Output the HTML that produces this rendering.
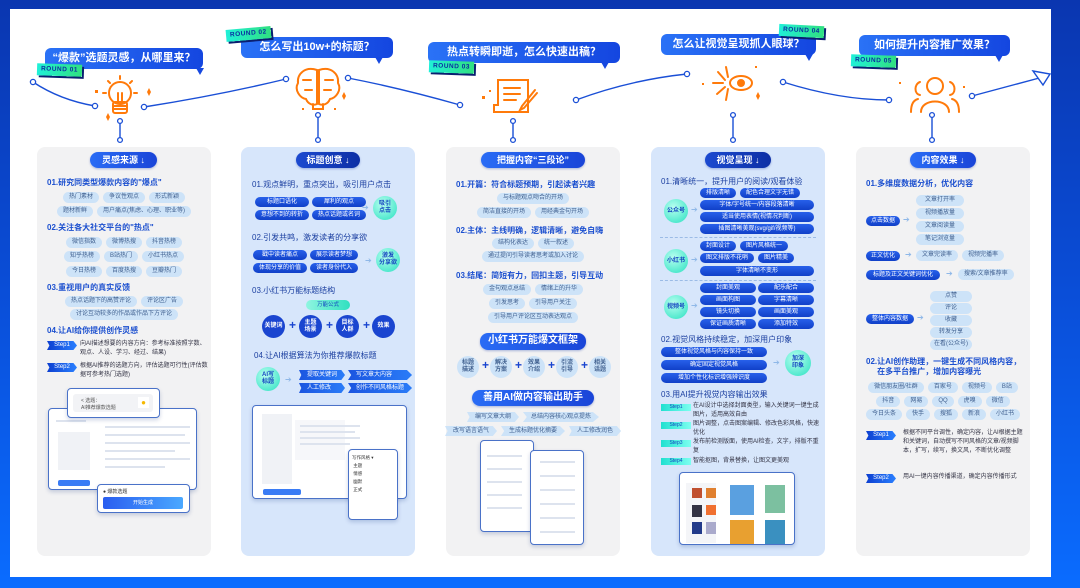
<!DOCTYPE html>
<html><head><meta charset="utf-8">
<style>
*{margin:0;padding:0;box-sizing:border-box}
body{width:1080px;height:588px;overflow:hidden;position:relative;font-family:"Liberation Sans","Noto Sans CJK SC",sans-serif;background:linear-gradient(180deg,#0a36b0 0%,#0a4ed8 50%,#0a6cff 100%)}
.panel{position:absolute;left:10px;top:9px;width:1041px;height:568px;background:#fff}
.card{position:absolute;top:147px;width:174px;height:409px;border-radius:8px;background:#f2f2f3}
.card.b{background:#d7e6fb}
.a{position:absolute}
.title{position:absolute;height:16px;border-radius:8px;background:linear-gradient(90deg,#2a6cf5,#1a45d8);color:#fff;font-weight:bold;font-size:9px;line-height:16px;text-align:center;box-shadow:0 1px 2px rgba(0,40,160,.3)}
.title.dk{background:linear-gradient(90deg,#1c4ad0,#0d2fa5)}
.h{position:absolute;font-size:8px;font-weight:bold;color:#1b4fcf;white-space:nowrap}
.row{position:absolute;display:flex;gap:4px;justify-content:center}
.p{height:11px;border-radius:6px;background:#cde3f8;color:#40608f;font-size:6px;line-height:11px;padding:0 6px;white-space:nowrap;text-align:center}
.d{height:10px;border-radius:5px;background:linear-gradient(180deg,#2760ea,#1140c8);color:#fff;font-size:6px;line-height:10px;padding:0 6px;white-space:nowrap;text-align:center}
.cir{position:absolute;border-radius:50%;display:flex;align-items:center;justify-content:center;text-align:center;font-size:6px;line-height:7px;font-weight:bold}
.g{background:radial-gradient(circle at 40% 35%,#b8fff0,#29e0c0);color:#1545c0}
.bl{background:#1a45d0;color:#fff}
.lb{background:#cde3f8;color:#40608f}
.plus{position:absolute;font-size:12px;font-weight:bold;color:#1a45d0}
.t{position:absolute;font-size:6px;color:#334;line-height:9px}
.step{position:absolute;height:9px;width:30px;background:linear-gradient(90deg,#0d3fd0,#2a80ff);color:#fff;font-size:6px;line-height:9px;text-align:center;clip-path:polygon(0 0,88% 0,100% 50%,88% 100%,0 100%,8% 50%)}
.stepc{position:absolute;height:7px;width:30px;background:linear-gradient(90deg,#20e0d0,#7dfff0);color:#1545c0;font-size:5px;line-height:7px;text-align:center}
.bub{position:absolute;height:21px;border-radius:6px;background:linear-gradient(90deg,#2a72f6,#1446e0);color:#fff;font-weight:bold;font-size:11px;line-height:21px;text-align:center;white-space:nowrap}
.bub:after{content:"";position:absolute;bottom:-6px;border-left:4px solid transparent;border-right:4px solid transparent;border-top:7px solid #1648e0}
.rd{position:absolute;height:12px;padding:0 4px;background:linear-gradient(90deg,#20f0d8,#30e080);color:#0b2fa0;font-size:6.5px;font-weight:bold;line-height:12px;box-shadow:2px 2px 0 #0a1f70;letter-spacing:.5px}
.rib{height:10px;background:linear-gradient(90deg,#1b55e0,#2a7cf8);color:#fff;font-size:6px;line-height:10px;padding:0 8px;clip-path:polygon(0 0,92% 0,100% 50%,92% 100%,0 100%,5% 50%);white-space:nowrap}
.rib2{height:10px;background:#cde3f8;color:#40608f;font-size:6px;line-height:10px;padding:0 8px;clip-path:polygon(0 0,92% 0,100% 50%,92% 100%,0 100%,5% 50%);white-space:nowrap}
.win{position:absolute;background:#fff;border:1.5px solid #4a72c8;border-radius:4px;box-shadow:0 2px 4px rgba(0,40,120,.2)}
.ln{position:absolute;height:2px;background:#dde3ee}
.arr{position:absolute;color:#8fb8e8;font-size:8px}
.dash{position:absolute;height:0;border-top:1px dashed #9bbbe6}
</style></head><body>
<div class="panel"></div>

<!-- connectors & icons -->
<svg class="a" style="left:0;top:0" width="1080" height="588">
<g fill="none" stroke="#1a4fd6" stroke-width="1.4">
<path d="M33,82 Q60,100 95,106"/><path d="M144,107 Q220,95 286,79"/><path d="M348,78 Q400,88 460,105"/><path d="M576,100 Q630,80 687,74"/><path d="M783,82 Q840,100 889,100"/><path d="M972,96 L1043,77"/>
<path d="M1033,71 L1050,74 L1043,85 Z" fill="#fff"/>
<path d="M120,121 V140 M318,115 V140 M513,121 V140 M733,115 V140 M932,115 V140"/>
</g>
<g fill="#fff" stroke="#1a4fd6" stroke-width="1.3">
<circle cx="33" cy="82" r="2.6"/><circle cx="95" cy="106" r="2.6"/><circle cx="144" cy="107" r="2.6"/><circle cx="286" cy="79" r="2.6"/><circle cx="348" cy="78" r="2.6"/><circle cx="460" cy="105" r="2.6"/><circle cx="576" cy="100" r="2.6"/><circle cx="687" cy="74" r="2.6"/><circle cx="783" cy="82" r="2.6"/><circle cx="889" cy="100" r="2.6"/><circle cx="972" cy="96" r="2.6"/>
<circle cx="120" cy="121" r="2.4"/><circle cx="120" cy="140" r="2.4"/><circle cx="318" cy="115" r="2.4"/><circle cx="318" cy="140" r="2.4"/><circle cx="513" cy="121" r="2.4"/><circle cx="513" cy="140" r="2.4"/><circle cx="733" cy="115" r="2.4"/><circle cx="733" cy="140" r="2.4"/><circle cx="932" cy="115" r="2.4"/><circle cx="932" cy="140" r="2.4"/>
</g>
<g fill="none" stroke="#ff7a0a" stroke-width="2" stroke-linecap="round">
<!-- bulb -->
<circle cx="120" cy="93" r="11"/><rect x="113" y="102" width="14" height="11" rx="2"/><path d="M114,106 H126 M114,109 H126 M118,93 V102 M122,93 V102"/>
<path d="M120,76 V79 M108,81 L110,83 M132,81 L130,83 M103,93 H106 M134,93 H137"/>
<!-- brain -->
<path d="M317,70 C305,66 297,74 298,83 C294,90 300,98 306,99 C308,104 313,106 317,104 Z"/><path d="M319,70 C331,66 339,74 338,83 C342,90 336,98 330,99 C328,104 323,106 319,104 Z"/>
<path d="M303,80 H311 M305,90 H312 M333,80 H325 M331,90 H324 M313,104 V109 H323 V104"/>
<!-- doc -->
<path d="M498,80 H528 V112 H494 V105 H498 Z"/><path d="M504,88 H520 M504,94 H520 M504,100 H516"/><path d="M535,90 L522,106 L520,110 L524,108 L537,93"/>
<!-- eye -->
<ellipse cx="741" cy="83" rx="11" ry="7"/><circle cx="741" cy="83" r="3" fill="#ff7a0a"/>
<path d="M726,67 L728,77 M718,72 L725,80 M713,83 H723 M717,94 L725,87 M726,100 L728,89"/>
<!-- people -->
<circle cx="935" cy="86" r="8"/><path d="M921,112 C921,98 949,98 949,112"/><path d="M920,82 C914,84 914,94 920,95 M950,82 C956,84 956,94 950,95 M911,112 C911,104 914,100 918,99 M959,112 C959,104 956,100 952,99"/>
</g>
<g fill="#ff7a0a"><path d="M106,117 l2,-4 l2,4 l-2,4z"/><path d="M147,92 l2,-4 l2,4 l-2,4z"/><rect x="95" y="90" width="3" height="3"/><path d="M342,96 l2,-4 l2,4 l-2,4z"/><rect x="302" y="108" width="2" height="2"/><rect x="334" y="108" width="2" height="2"/><rect x="482" y="96" width="3" height="3"/><rect x="489" y="90" width="2" height="2"/><path d="M756,96 l2,-4 l2,4 l-2,4z"/><rect x="755" y="66" width="2" height="2"/><rect x="702" y="83" width="2" height="2"/><rect x="899" y="82" width="2" height="2"/><rect x="963" y="86" width="2" height="2"/></g>
</svg>

<!-- bubbles -->
<div class="bub" style="left:45px;top:48px;width:158px">“爆款”选题灵感，从哪里来？<span style="position:absolute;left:118px;bottom:-6px"></span></div>
<div class="rd" style="left:37px;top:64px;transform:rotate(2deg)">ROUND 01</div>
<div class="bub" style="left:241px;top:37px;width:152px">怎么写出10w+的标题？</div>
<div class="rd" style="left:226px;top:28px;transform:rotate(-5deg)">ROUND 02</div>
<div class="bub" style="left:428px;top:42px;width:192px">热点转瞬即逝，怎么快速出稿？</div>
<div class="rd" style="left:429px;top:61px;transform:rotate(2deg)">ROUND 03</div>
<div class="bub" style="left:661px;top:34px;width:155px">怎么让视觉呈现抓人眼球？</div>
<div class="rd" style="left:779px;top:25px;transform:rotate(3deg)">ROUND 04</div>
<div class="bub" style="left:859px;top:35px;width:151px">如何提升内容推广效果？</div>
<div class="rd" style="left:851px;top:55px;transform:rotate(2deg)">ROUND 05</div>

<!-- CARD 1 -->
<div class="card" style="left:37px"></div>
<div class="title" style="left:90px;top:152px;width:67px">灵感来源 ↓</div>
<div class="h" style="left:47px;top:177px">01.研究同类型爆款内容的"爆点"</div>
<div class="row" style="left:37px;width:174px;top:192px"><div class="p">热门素材</div><div class="p">争议性观点</div><div class="p">形式新颖</div></div>
<div class="row" style="left:37px;width:174px;top:206px"><div class="p">题材新鲜</div><div class="p">用户痛点(焦虑、心理、职业等)</div></div>
<div class="h" style="left:47px;top:222px">02.关注各大社交平台的"热点"</div>
<div class="row" style="left:37px;width:174px;top:237px"><div class="p">微信指数</div><div class="p">微博热搜</div><div class="p">抖音热榜</div></div>
<div class="row" style="left:37px;width:174px;top:251px"><div class="p">知乎热榜</div><div class="p">B站热门</div><div class="p">小红书热点</div></div>
<div class="row" style="left:37px;width:174px;top:266px"><div class="p">今日热榜</div><div class="p">百度热搜</div><div class="p">豆瓣热门</div></div>
<div class="h" style="left:47px;top:282px">03.重视用户的真实反馈</div>
<div class="row" style="left:37px;width:174px;top:296px"><div class="p">热点话题下的高赞评论</div><div class="p">评论区广告</div></div>
<div class="row" style="left:37px;width:174px;top:309px"><div class="p">讨论互动较多的作品或作品下方评论</div></div>
<div class="h" style="left:47px;top:325px">04.让AI给你提供创作灵感</div>
<div class="step" style="left:47px;top:341px">Step1</div>
<div class="t" style="left:80px;top:340px;width:128px">向AI描述想要的内容方向：参考标准按照字数、观点、人设、学习、经过、结果)</div>
<div class="step" style="left:47px;top:363px">Step2</div>
<div class="t" style="left:80px;top:362px;width:128px">根据AI推荐的选题方向，评估选题可行性(评估数据可参考热门选题)</div>
<div class="win" style="left:48px;top:408px;width:149px;height:82px"></div>
<div class="ln" style="left:56px;top:420px;width:30px"></div><div class="a" style="left:58px;top:432px;width:32px;height:38px;background:#f0f2f6"></div>
<div class="ln" style="left:105px;top:426px;width:85px"></div><div class="ln" style="left:105px;top:434px;width:80px"></div><div class="ln" style="left:105px;top:442px;width:85px"></div><div class="ln" style="left:105px;top:450px;width:70px"></div><div class="ln" style="left:105px;top:458px;width:85px"></div><div class="ln" style="left:105px;top:466px;width:60px"></div>
<div class="a" style="left:58px;top:480px;width:32px;height:6px;background:#3a7cf5;border-radius:2px"></div>
<div class="win" style="left:67px;top:388px;width:93px;height:30px"><div class="a" style="left:5px;top:5px;width:80px;height:18px;background:#f2f3f6;border-radius:3px;font-size:5px;color:#555;padding:3px 8px">&lt; 选题：<br>AI推荐爆款选题</div><div class="a" style="left:70px;top:8px;width:11px;height:11px;background:#fff;color:#f5b800;font-size:8px;line-height:11px;text-align:center">●</div></div>
<div class="win" style="left:97px;top:484px;width:93px;height:29px"><div class="a" style="left:5px;top:3px;font-size:5px;color:#333">● 爆款选题</div><div class="a" style="left:5px;top:12px;width:80px;height:12px;border-radius:2px;background:linear-gradient(90deg,#2a5ef0,#4aa8ff);color:#fff;font-size:5px;line-height:12px;text-align:center">开始生成</div></div>

<!-- CARD 2 -->
<div class="card b" style="left:241px"></div>
<div class="title dk" style="left:296px;top:152px;width:64px">标题创意 ↓</div>
<div class="h" style="left:252px;top:179px;font-weight:normal;color:#1b3fa0">01.观点鲜明，重点突出，吸引用户点击</div>
<div class="a" style="left:255px;top:197px;display:grid;grid-template-columns:auto auto;gap:3px"><div class="d">标题口语化</div><div class="d">犀利的观点</div><div class="d">意想不到的转折</div><div class="d">热点话题或名词</div></div>
<div class="arr" style="left:362px;top:203px">➔</div>
<div class="cir g" style="left:373px;top:196px;width:24px;height:24px">吸引<br>点击</div>
<div class="h" style="left:252px;top:232px;font-weight:normal;color:#1b3fa0">02.引发共鸣，激发读者的分享欲</div>
<div class="a" style="left:253px;top:250px;display:grid;grid-template-columns:auto auto;gap:3px"><div class="d">戳中读者痛点</div><div class="d">展示读者梦想</div><div class="d">体现分享的价值</div><div class="d">读者身份代入</div></div>
<div class="arr" style="left:365px;top:256px">➔</div>
<div class="cir g" style="left:376px;top:248px;width:24px;height:24px">激发<br>分享欲</div>
<div class="h" style="left:252px;top:285px;font-weight:normal;color:#1b3fa0">03.小红书万能标题结构</div>
<div class="a" style="left:306px;top:300px;width:44px;height:10px;border-radius:5px;background:linear-gradient(90deg,#8ff5e0,#30e0c0);font-size:5.5px;line-height:10px;text-align:center;color:#1545c0">万能公式</div>
<div class="cir bl" style="left:262px;top:315px;width:23px;height:23px">关键词</div>
<div class="plus" style="left:289px;top:318px">+</div>
<div class="cir bl" style="left:299px;top:315px;width:23px;height:23px">主题<br>场景</div>
<div class="plus" style="left:326px;top:318px">+</div>
<div class="cir bl" style="left:336px;top:315px;width:23px;height:23px">目标<br>人群</div>
<div class="plus" style="left:363px;top:318px">+</div>
<div class="cir bl" style="left:372px;top:315px;width:23px;height:23px">效果</div>
<div class="h" style="left:254px;top:350px;font-weight:normal;color:#1b3fa0">04.让AI根据算法为你推荐爆款标题</div>
<div class="cir g" style="left:256px;top:367px;width:24px;height:24px">AI写<br>标题</div>
<div class="arr" style="left:285px;top:375px">➔</div>
<div class="a" style="left:299px;top:370px;display:grid;grid-template-columns:auto auto;gap:3px"><div class="rib">提取关键词</div><div class="rib">写文章大内容</div><div class="rib">人工修改</div><div class="rib">创作不同风格标题</div></div>
<div class="win" style="left:252px;top:405px;width:155px;height:94px"></div>
<div class="a" style="left:262px;top:414px;width:30px;height:70px;background:#f0f2f6"></div>
<div class="a" style="left:295px;top:420px;width:50px;height:40px;background:#f6f7fa"></div>
<div class="ln" style="left:300px;top:425px;width:60px"></div><div class="ln" style="left:300px;top:431px;width:55px"></div><div class="ln" style="left:300px;top:437px;width:60px"></div><div class="ln" style="left:300px;top:443px;width:50px"></div>
<div class="a" style="left:263px;top:489px;width:38px;height:6px;background:#3a7cf5;border-radius:2px"></div>
<div class="win" style="left:348px;top:449px;width:50px;height:71px"><div class="a" style="left:3px;top:4px;font-size:4.5px;color:#333;line-height:8px">写作风格 ▾<br>&nbsp;主题<br>&nbsp;情感<br>&nbsp;幽默<br>&nbsp;正式</div></div>

<!-- CARD 3 -->
<div class="card" style="left:446px"></div>
<div class="title" style="left:481px;top:152px;width:104px">把握内容“三段论”</div>
<div class="h" style="left:456px;top:179px">01.开篇：符合标题预期，引起读者兴趣</div>
<div class="row" style="left:446px;width:174px;top:193px"><div class="p">与标题观点吻合的开场</div></div>
<div class="row" style="left:446px;width:174px;top:207px"><div class="p">简洁直接的开场</div><div class="p">用经典金句开场</div></div>
<div class="h" style="left:456px;top:225px">02.主体：主线明确，逻辑清晰，避免自嗨</div>
<div class="row" style="left:446px;width:174px;top:238px"><div class="p">结构化表达</div><div class="p">统一叙述</div></div>
<div class="row" style="left:446px;width:174px;top:251px"><div class="p">通过提问引导读者思考或加入讨论</div></div>
<div class="h" style="left:456px;top:270px">03.结尾：简短有力，回扣主题，引导互动</div>
<div class="row" style="left:446px;width:174px;top:284px"><div class="p">金句观点总结</div><div class="p">情绪上的升华</div></div>
<div class="row" style="left:446px;width:174px;top:298px"><div class="p">引发思考</div><div class="p">引导用户关注</div></div>
<div class="row" style="left:446px;width:174px;top:312px"><div class="p">引导用户评论区互动表达观点</div></div>
<div class="title" style="left:480px;top:333px;width:106px;height:17px;font-size:10px">小红书万能爆文框架</div>
<div class="cir lb" style="left:457px;top:356px;width:22px;height:22px">标题<br>描述</div><div class="plus" style="left:482px;top:358px">+</div>
<div class="cir lb" style="left:490px;top:356px;width:22px;height:22px">解决<br>方案</div><div class="plus" style="left:515px;top:358px">+</div>
<div class="cir lb" style="left:523px;top:356px;width:22px;height:22px">效果<br>介绍</div><div class="plus" style="left:548px;top:358px">+</div>
<div class="cir lb" style="left:556px;top:356px;width:22px;height:22px">引流<br>引导</div><div class="plus" style="left:581px;top:358px">+</div>
<div class="cir lb" style="left:589px;top:356px;width:22px;height:22px">相关<br>话题</div>
<div class="title" style="left:472px;top:390px;width:122px;height:16px;font-size:10px">善用AI做内容输出助手</div>
<div class="row" style="left:446px;width:174px;top:412px"><div class="rib2">编写文章大纲</div><div class="rib2">总结内容核心观点提炼</div></div>
<div class="row" style="left:446px;width:174px;top:426px"><div class="rib2">改写语言语气</div><div class="rib2">生成标题优化摘要</div><div class="rib2">人工修改润色</div></div>
<div class="win" style="left:480px;top:440px;width:54px;height:92px"></div>
<div class="win" style="left:530px;top:450px;width:54px;height:95px"></div>
<div class="ln" style="left:487px;top:455px;width:35px"></div><div class="ln" style="left:487px;top:468px;width:35px"></div><div class="ln" style="left:487px;top:481px;width:35px"></div><div class="ln" style="left:487px;top:494px;width:35px"></div><div class="ln" style="left:487px;top:507px;width:35px"></div>
<div class="ln" style="left:540px;top:461px;width:35px"></div><div class="ln" style="left:540px;top:475px;width:35px"></div><div class="ln" style="left:540px;top:489px;width:35px"></div><div class="ln" style="left:540px;top:503px;width:35px"></div><div class="ln" style="left:540px;top:517px;width:35px"></div><div class="ln" style="left:540px;top:531px;width:35px"></div>

<!-- CARD 4 -->
<div class="card b" style="left:651px"></div>
<div class="title dk" style="left:705px;top:152px;width:66px">视觉呈现 ↓</div>
<div class="h" style="left:661px;top:176px;font-weight:normal;color:#1b3fa0">01.清晰统一，提升用户的阅读/观看体验</div>
<div class="cir g" style="left:664px;top:199px;width:24px;height:24px">公众号</div><div class="arr" style="left:691px;top:205px">➔</div>
<div class="row" style="left:700px;top:188px"><div class="d">排版清晰</div><div class="d">配色合理文字无错</div></div>
<div class="row" style="left:700px;top:200px"><div class="d" style="width:114px">字体/字号统一/内容段落清晰</div></div>
<div class="row" style="left:700px;top:212px"><div class="d" style="width:114px">适当使用表情(视情况判断)</div></div>
<div class="row" style="left:700px;top:224px"><div class="d" style="width:114px">插图清晰美观(svg/gif/视频等)</div></div>
<div class="dash" style="left:660px;top:237px;width:156px"></div>
<div class="cir g" style="left:664px;top:249px;width:24px;height:24px">小红书</div><div class="arr" style="left:691px;top:255px">➔</div>
<div class="row" style="left:700px;top:241px"><div class="d">封面设计</div><div class="d">图片风格统一</div></div>
<div class="row" style="left:700px;top:253px"><div class="d">图文排版不花哨</div><div class="d">图片精美</div></div>
<div class="row" style="left:700px;top:266px"><div class="d" style="width:114px">字体清晰不变形</div></div>
<div class="dash" style="left:660px;top:280px;width:156px"></div>
<div class="cir g" style="left:664px;top:295px;width:24px;height:24px">视频号</div><div class="arr" style="left:691px;top:301px">➔</div>
<div class="a" style="left:700px;top:283px;display:grid;grid-template-columns:56px 56px;gap:2px"><div class="d">封面美观</div><div class="d">配乐配合</div><div class="d">画面构图</div><div class="d">字幕清晰</div><div class="d">镜头切换</div><div class="d">画面美观</div><div class="d">保证画质清晰</div><div class="d">添加特效</div></div>
<div class="h" style="left:661px;top:334px;font-weight:normal;color:#1b3fa0">02.视觉风格持续稳定，加深用户印象</div>
<div class="a" style="left:661px;top:347px;display:flex;flex-direction:column;gap:3px"><div class="d" style="width:106px">整体视觉风格与内容保持一致</div><div class="d" style="width:106px">确定固定视觉风格</div><div class="d" style="width:106px">增加个性化标识增强辨识度</div></div>
<div class="arr" style="left:773px;top:358px">➔</div>
<div class="cir g" style="left:785px;top:350px;width:26px;height:26px">加深<br>印象</div>
<div class="h" style="left:661px;top:389px;font-weight:normal;color:#1b3fa0">03.用AI提升视觉内容输出效果</div>
<div class="stepc" style="left:661px;top:404px">Step1</div><div class="t" style="left:693px;top:402px;width:128px">在AI设计中选择封面类型，输入关键词一键生成图片，适用高效自由</div>
<div class="stepc" style="left:661px;top:422px">Step2</div><div class="t" style="left:693px;top:420px;width:128px">图片调整，点击图案编辑、修改色彩风格，快速优化</div>
<div class="stepc" style="left:661px;top:440px">Step3</div><div class="t" style="left:693px;top:438px;width:128px">发布前检测版面，使用AI检查，文字，排版不重复</div>
<div class="stepc" style="left:661px;top:458px">Step4</div><div class="t" style="left:693px;top:457px;width:130px">智能抠图，背景替换，让图文更美观</div>
<div class="win" style="left:679px;top:472px;width:116px;height:73px"></div>
<div class="a" style="left:686px;top:483px;width:30px;height:60px;background:#f4f5f8"></div>
<div class="a" style="left:692px;top:488px;width:10px;height:10px;background:#c05030"></div><div class="a" style="left:706px;top:488px;width:10px;height:10px;background:#e08030"></div>
<div class="a" style="left:692px;top:505px;width:10px;height:12px;background:#334"></div><div class="a" style="left:706px;top:505px;width:10px;height:10px;background:#f07030"></div>
<div class="a" style="left:692px;top:522px;width:10px;height:12px;background:#223a8a"></div><div class="a" style="left:706px;top:522px;width:10px;height:12px;background:#aac"></div>
<div class="a" style="left:730px;top:485px;width:24px;height:30px;background:#5aa0e0"></div><div class="a" style="left:765px;top:485px;width:20px;height:28px;background:#7cc0a0"></div>
<div class="a" style="left:730px;top:520px;width:24px;height:24px;background:#e8a030"></div><div class="a" style="left:765px;top:520px;width:20px;height:24px;background:#3a90c0"></div>

<!-- CARD 5 -->
<div class="card" style="left:856px"></div>
<div class="title" style="left:910px;top:152px;width:66px">内容效果 ↓</div>
<div class="h" style="left:866px;top:178px">01.多维度数据分析，优化内容</div>
<div class="a" style="left:916px;top:195px;display:flex;flex-direction:column;gap:2px"><div class="p" style="width:48px;padding:0">文章打开率</div><div class="p" style="width:48px;padding:0">视频播放量</div><div class="p" style="width:48px;padding:0">文章阅读量</div><div class="p" style="width:48px;padding:0">笔记浏览量</div></div>
<div class="d" style="position:absolute;left:866px;top:216px;width:34px;padding:0">点击数据</div><div class="arr" style="left:903px;top:215px">➔</div>
<div class="d" style="position:absolute;left:866px;top:251px;width:34px;padding:0">正文优化</div><div class="arr" style="left:905px;top:250px">➔</div>
<div class="row" style="left:916px;top:250px"><div class="p">文章完读率</div><div class="p">视频完播率</div></div>
<div class="d" style="position:absolute;left:866px;top:270px;width:74px;padding:0">标题及正文关键词优化</div><div class="arr" style="left:946px;top:269px">➔</div>
<div class="row" style="left:958px;top:269px"><div class="p">搜索/文章推荐率</div></div>
<div class="a" style="left:930px;top:291px;display:flex;flex-direction:column;gap:1px"><div class="p" style="width:42px;padding:0">点赞</div><div class="p" style="width:42px;padding:0">评论</div><div class="p" style="width:42px;padding:0">收藏</div><div class="p" style="width:42px;padding:0">转发分享</div><div class="p" style="width:42px;padding:0">在看(公众号)</div></div>
<div class="d" style="position:absolute;left:866px;top:314px;width:48px;padding:0">整体内容数据</div><div class="arr" style="left:917px;top:313px">➔</div>
<div class="h" style="left:866px;top:357px;line-height:10px">02.让AI创作助理，一键生成不同风格内容，<br>&nbsp;&nbsp;&nbsp;&nbsp;&nbsp;在多平台推广，增加内容曝光</div>
<div class="row" style="left:856px;width:174px;top:382px"><div class="p">微信朋友圈/社群</div><div class="p">百家号</div><div class="p">视频号</div><div class="p">B站</div></div>
<div class="row" style="left:856px;width:174px;top:396px"><div class="p">抖音</div><div class="p">网易</div><div class="p">QQ</div><div class="p">虎嗅</div><div class="p">微信</div></div>
<div class="row" style="left:856px;width:174px;top:409px"><div class="p">今日头条</div><div class="p">快手</div><div class="p">搜狐</div><div class="p">新浪</div><div class="p">小红书</div></div>
<div class="step" style="left:866px;top:431px">Step1</div>
<div class="t" style="left:903px;top:429px;width:124px">根据不同平台调性，确定内容，让AI根据主题和关键词，自动撰写不同风格的文章/视频脚本，扩写，续写，换文风，不断优化调整</div>
<div class="step" style="left:866px;top:474px">Step2</div>
<div class="t" style="left:903px;top:473px;width:126px">用AI一键内容传播渠道，确定内容传播形式</div>
</body></html>
